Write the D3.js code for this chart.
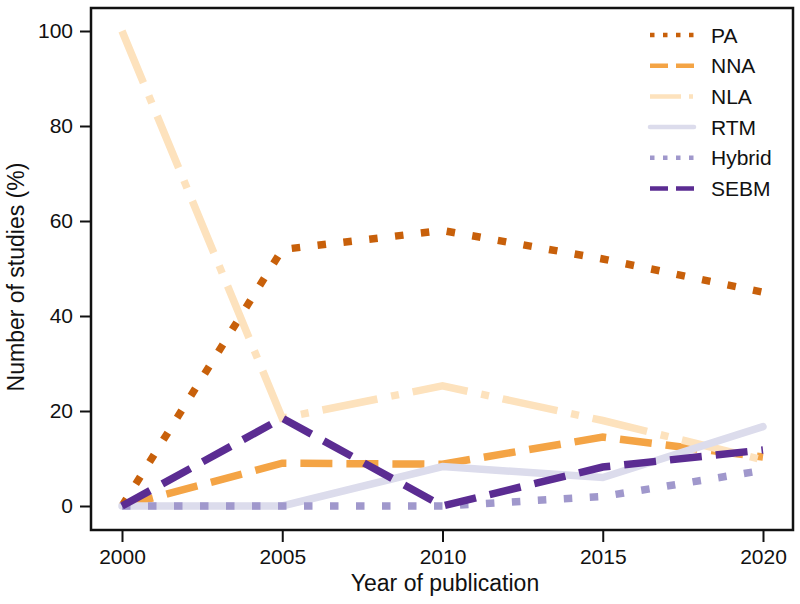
<!DOCTYPE html>
<html>
<head>
<meta charset="utf-8">
<script src="https://cdn.jsdelivr.net/npm/d3@7"></script>
<style>
  body { margin: 0; background: #fff; }
  text { font-family: "Liberation Sans", Arial, sans-serif; fill: #111; }
</style>
</head>
<body>
<div id="chart"></div>
<script>
// data
const years = [2000, 2005, 2010, 2015, 2020];
const seriesNames = ["PA", "NNA", "NLA", "RTM", "Hybrid", "SEBM"];
const pa     = [0, 54, 58, 52, 45];
const nna    = [0, 9, 8.8, 14.5, 10.3];
const nla    = [100, 18.5, 25.3, 18, 9.7];
const rtm    = [0, 0, 8.3, 6, 16.7];
const hybrid = [0, 0, 0, 2, 7.5];
const sebm   = [0, 18.5, 0, 8.2, 11.8];
const yTicks = [0, 20, 40, 60, 80, 100];

const colors = ["#c8600a", "#f4a445", "#fde2bd", "#dcdcec", "#a098cc", "#5b2c92"];
// dash patterns for plot lines, and thinner versions for legend
const dashes = ["8.5,17.5", "32,14", "56,14,8,14", null, "8.5,17.5", "32,14"];
const legendDashes = ["4.5,8.5", "18,8", "31,8,4,8", null, "4.5,8.5", "18,8"];

const values = [pa, nna, nla, rtm, hybrid, sebm];

const W = 800, H = 604;
const margin = { top: 8, right: 7, bottom: 74, left: 91 };
const width = W - margin.left - margin.right;
const height = H - margin.top - margin.bottom;

const svg = d3.select("#chart").append("svg")
  .attr("width", W)
  .attr("height", H);

const g = svg.append("g")
  .attr("transform", "translate(" + margin.left + "," + margin.top + ")");

// x scale: 2000 at 122px, 2020 at 763px on the page
const xScale = d3.scaleLinear()
  .domain([2000, 2020])
  .range([122 - margin.left, 763 - margin.left]);

const yScale = d3.scaleLinear()
  .domain([0, 100])
  .range([506 - margin.top, 31 - margin.top]);

const line = d3.line()
  .x((d, i) => xScale(years[i]))
  .y(d => yScale(d));

// lines, in legend order so SEBM ends up on top
values.forEach((vals, k) => {
  g.append("path")
    .datum(vals)
    .attr("fill", "none")
    .attr("stroke", colors[k])
    .attr("stroke-width", 7.5)
    .attr("stroke-linejoin", "miter")
    .attr("stroke-linecap", k === 3 ? "round" : "butt")
    .attr("stroke-dasharray", dashes[k])
    .attr("d", line);
});

// frame
g.append("rect")
  .attr("x", 0).attr("y", 0)
  .attr("width", width).attr("height", height)
  .attr("fill", "none")
  .attr("stroke", "#111")
  .attr("stroke-width", 2.5);

// x axis
const xAxis = g.append("g")
  .attr("transform", "translate(0," + height + ")")
  .call(d3.axisBottom(xScale).tickValues(years).tickFormat(d3.format("d")).tickSize(12).tickPadding(7));
xAxis.select(".domain").remove();
xAxis.selectAll("line").attr("stroke", "#111").attr("stroke-width", 2);
xAxis.selectAll("text").style("font-size", "21px").attr("fill", "#111");

// y axis
const yAxis = g.append("g")
  .call(d3.axisLeft(yScale).tickValues(yTicks).tickSize(11).tickPadding(7));
yAxis.select(".domain").remove();
yAxis.selectAll("line").attr("stroke", "#111").attr("stroke-width", 2);
yAxis.selectAll("text").style("font-size", "21px").attr("fill", "#111");

// axis titles
svg.append("text")
  .attr("x", 445).attr("y", 591)
  .attr("text-anchor", "middle")
  .style("font-size", "23px")
  .text("Year of publication");

svg.append("text")
  .attr("transform", "translate(24," + 277 + ") rotate(-90)")
  .attr("text-anchor", "middle")
  .style("font-size", "23px")
  .text("Number of studies (%)");

// legend
const legend = svg.append("g").attr("transform", "translate(650,35)");
seriesNames.forEach((name, k) => {
  const row = legend.append("g").attr("transform", "translate(0," + (k * 30.7) + ")");
  row.append("line")
    .attr("x1", 0).attr("x2", 44)
    .attr("y1", 0).attr("y2", 0)
    .attr("stroke", colors[k])
    .attr("stroke-width", 4.5)
    .attr("stroke-linecap", k === 3 ? "round" : "butt")
    .attr("stroke-dasharray", legendDashes[k]);
  row.append("text")
    .attr("x", 61).attr("y", 7.5)
    .style("font-size", "21px")
    .text(name);
});
</script>
</body>
</html>
